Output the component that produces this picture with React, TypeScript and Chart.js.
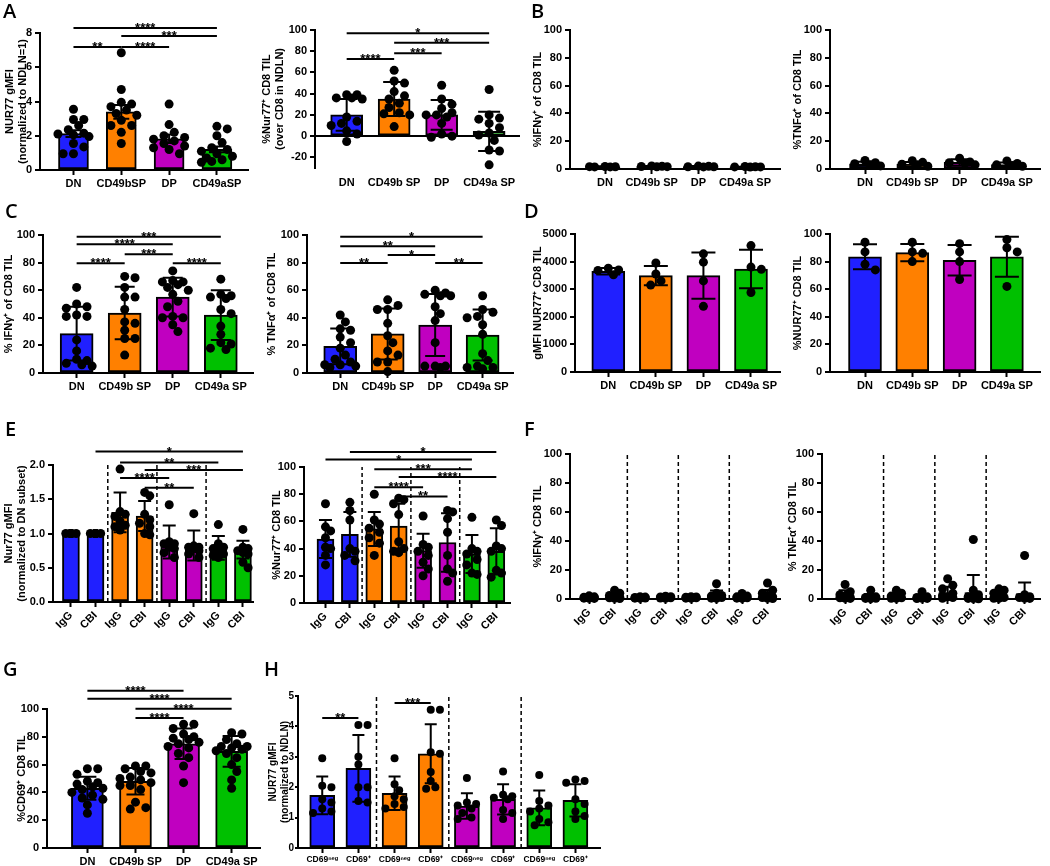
import React, { useEffect, useRef } from 'react';
import { Chart, registerables } from 'chart.js';
Chart.register(...registerables);

const FONT = 'Arial, "Liberation Sans", Helvetica, sans-serif';
const BLUE = '#2020ff';
const ORANGE = '#ff8000';
const PURPLE = '#c000c0';
const GREEN = '#00c000';
const SUBSET_COLORS = [BLUE, ORANGE, PURPLE, GREEN];
const PAIR_COLORS = [BLUE, BLUE, ORANGE, ORANGE, PURPLE, PURPLE, GREEN, GREEN];

// ---------- categories ----------
const SUBSETS = ['DN', 'CD49b SP', 'DP', 'CD49a SP'];
const SUBSETS_A = ['DN', 'CD49bSP', 'DP', 'CD49aSP'];
const TREAT = ['IgG', 'CBI', 'IgG', 'CBI', 'IgG', 'CBI', 'IgG', 'CBI'];
const CD69_CATS = ['CD69ⁿᵉᵍ', 'CD69⁺', 'CD69ⁿᵉᵍ', 'CD69⁺', 'CD69ⁿᵉᵍ', 'CD69⁺', 'CD69ⁿᵉᵍ', 'CD69⁺'];

// ---------- A ----------
const A1_MEAN = [2.12, 3.4, 1.82, 1.2];
const A1_SD = [0.2, 0.4, 0.25, 0.17];
const A1_PTS = [
  [3.55, 2.95, 2.95, 2.6, 2.35, 2.15, 2.1, 2.05, 1.95, 1.55, 1.35, 0.95, 0.95],
  [6.85, 4.7, 3.95, 3.85, 3.7, 3.5, 3.3, 3.2, 2.9, 2.6, 2.6, 2.2, 1.55],
  [3.85, 2.65, 2.2, 2.0, 1.9, 1.8, 1.7, 1.55, 1.4, 1.3, 1.2, 0.95],
  [2.55, 2.4, 2.0, 1.6, 1.3, 1.2, 1.1, 0.95, 0.8, 0.7, 0.6, 0.5, 0.45],
];
const A1_SIG: [number, number, number, string][] = [[0, 3, 8.29, '****'], [1, 3, 7.82, '***'], [0, 1, 7.18, '**'], [1, 2, 7.18, '****']];

const A2_MEAN = [20, 35, 20, 4.5];
const A2_SD = [15, 16, 14, 18.5];
const A2_PTS = [
  [39, 39, 36, 36, 35, 18, 14, 12, 10, 5, 2, -5],
  [62, 52, 50, 42, 38, 35, 31, 27, 22, 21, 20, 9],
  [48, 35, 30, 26, 22, 20, 20, 18, 12, 2, 0, -1],
  [44, 20, 17, 16, 12, 8, 3, 1, -4, -13, -14, -27],
];
const A2_SIG: [number, number, number, string][] = [[0, 3, 97, '*'], [1, 3, 88, '***'], [1, 2, 78, '***'], [0, 1, 72.6, '****']];

// ---------- B ----------
const B1_MEAN = [1.6, 1.8, 1.7, 1.5];
const B1_SD = [0.3, 0.3, 0.4, 0.2];
const B1_PTS = [
  [1.8, 1.6, 1.5, 1.5, 1.7],
  [2.2, 2.0, 1.8, 1.6, 1.7],
  [2.1, 1.9, 1.6, 1.5, 1.6],
  [1.8, 1.6, 1.5, 1.4, 1.5],
];
const B2_MEAN = [3.8, 3.5, 4.8, 3.2];
const B2_SD = [1.5, 1.5, 2.2, 1.5];
const B2_PTS = [
  [6.2, 4.5, 3.8, 3.0, 2.2],
  [6.0, 4.8, 3.5, 3.0, 2.0],
  [7.8, 5.0, 4.5, 4.0, 3.0],
  [5.8, 4.0, 3.0, 2.5, 2.0],
];

// ---------- C ----------
const C1_MEAN = [28.5, 43.5, 55, 42];
const C1_SD = [19.5, 19, 14, 18];
const C1_PTS = [
  [62, 50, 48, 47, 42, 41, 41, 24, 16, 10, 9, 7, 6, 5],
  [70, 69, 62, 55, 55, 46, 37, 36, 31, 25, 25, 13],
  [74, 67, 66, 66, 64, 62, 60, 57, 52, 48, 41, 40, 40, 35, 30],
  [68, 57, 56, 55, 54, 46, 43, 34, 28, 22, 21, 18, 17],
];
const C1_SIG: [number, number, number, string][] = [[0, 3, 98.8, '***'], [0, 2, 93.3, '****'], [1, 2, 86, '***'], [0, 1, 79.5, '****'], [2, 3, 79.5, '****']];

const C2_MEAN = [19.3, 28.3, 34.8, 27.5];
const C2_SD = [13, 18.5, 22.5, 18.5];
const C2_PTS = [
  [42, 37, 32, 31, 26, 22, 18, 13, 10, 8, 6, 6, 5, 4],
  [53, 49, 46, 46, 36, 27, 22, 16, 13, 8, 8, 1],
  [60, 58, 57, 56, 56, 48, 43, 38, 22, 5, 5, 5, 4],
  [56, 46, 44, 41, 40, 35, 28, 14, 9, 5, 4, 4, 3],
];
const C2_SIG: [number, number, number, string][] = [[0, 3, 98.8, '*'], [0, 2, 91.8, '**'], [1, 2, 85.5, '*'], [0, 1, 79.8, '**'], [2, 3, 79.8, '**']];

// ---------- D ----------
const D1_MEAN = [3650, 3490, 3490, 3730];
const D1_SD = [120, 350, 840, 700];
const D1_PTS = [
  [3760, 3700, 3680, 3520],
  [3950, 3550, 3300, 3150],
  [4280, 3980, 3300, 2380],
  [4580, 3800, 3720, 2880],
];
const D2_MEAN = [83.5, 86.5, 81, 83.5];
const D2_SD = [9, 6.2, 11, 14.5];
const D2_PTS = [
  [94, 87, 78, 74],
  [94, 87, 86, 80],
  [93, 87, 80, 67],
  [96, 90, 87, 62],
];

// ---------- E ----------
const E1_MEAN = [1.0, 1.0, 1.31, 1.255, 0.875, 0.825, 0.79, 0.765];
const E1_SD = [0, 0, 0.29, 0.22, 0.24, 0.22, 0.175, 0.13];
const E1_PTS = [
  [1, 1, 1, 1, 1, 1, 1, 1],
  [1, 1, 1, 1, 1, 1, 1, 1],
  [1.94, 1.32, 1.28, 1.25, 1.18, 1.12, 1.1, 1.05],
  [1.6, 1.55, 1.28, 1.2, 1.15, 1.1, 1.0, 0.98],
  [1.42, 0.88, 0.85, 0.85, 0.8, 0.78, 0.72, 0.65],
  [1.29, 0.82, 0.8, 0.8, 0.78, 0.75, 0.7, 0.65],
  [1.13, 0.85, 0.8, 0.78, 0.75, 0.7, 0.68, 0.65],
  [1.06, 0.8, 0.78, 0.75, 0.72, 0.7, 0.58, 0.5],
];
const E1_SIG: [number, number, number, string][] = [[1, 7, 2.196, '*'], [2, 6, 2.035, '**'], [3, 7, 1.928, '***'], [2, 4, 1.811, '****'], [3, 5, 1.669, '**']];

const E2_MEAN = [47, 50.5, 54.5, 56.5, 38.5, 44.5, 36, 38];
const E2_SD = [14, 16.5, 12.5, 16.5, 12.5, 21.5, 14, 17];
const E2_PTS = [
  [73, 56, 53, 48, 41, 40, 35, 28],
  [74, 68, 61, 40, 38, 35, 31],
  [80, 61, 58, 55, 52, 48, 44, 35],
  [77, 76, 73, 65, 45, 40, 38, 37],
  [64, 43, 41, 38, 35, 30, 25, 20],
  [68, 67, 62, 52, 35, 25, 22, 16],
  [63, 40, 38, 36, 32, 28, 22, 21],
  [61, 57, 42, 40, 38, 24, 22, 19],
];
const E2_SIG: [number, number, number, string][] = [[1, 7, 111, '*'], [0, 6, 105.5, '*'], [2, 6, 98.3, '***'], [3, 7, 92.6, '****'], [2, 4, 85.2, '****'], [3, 5, 78.4, '**']];

// ---------- F ----------
const F1_MEAN = [1.2, 2.0, 1.0, 1.2, 1.0, 2.8, 1.3, 3.0];
const F1_SD = [0.6, 1.8, 0.4, 0.6, 0.5, 3.0, 1.0, 3.2];
const F1_PTS = [
  [2.2, 1.5, 1.2, 1.0, 0.8, 0.6, 0.5, 0.4],
  [6.0, 4.0, 2.5, 2.0, 1.2, 0.8, 0.5, 0.3],
  [1.6, 1.3, 1.0, 0.9, 0.7, 0.6, 0.5],
  [1.9, 1.6, 1.4, 1.2, 0.9, 0.7, 0.5],
  [1.6, 1.4, 1.2, 1.0, 0.8, 0.6, 0.5],
  [10.5, 4.0, 2.5, 2.0, 1.5, 1.0, 0.6, 0.4],
  [3.8, 2.0, 1.5, 1.0, 0.8, 0.6, 0.4],
  [11.0, 6.0, 4.0, 2.5, 1.5, 1.0, 0.5, 0.3],
];
const F2_MEAN = [2.8, 1.5, 1.8, 1.2, 4.0, 4.5, 2.0, 3.8];
const F2_SD = [3.2, 2.0, 2.0, 1.6, 4.5, 12, 2.5, 7.5];
const F2_PTS = [
  [10.0, 5.0, 3.0, 2.0, 1.0, 0.8, 0.5, 0.4],
  [6.0, 1.5, 1.0, 0.6, 0.5, 0.4, 0.3],
  [6.0, 4.0, 2.0, 1.2, 0.8, 0.5, 0.4],
  [5.0, 1.5, 1.0, 0.5, 0.4, 0.3],
  [14.0, 9.5, 7.0, 4.0, 2.5, 1.5, 1.0, 0.5],
  [41.0, 6.0, 3.0, 1.5, 1.0, 0.5, 0.4, 0.3, 0.2],
  [7.0, 6.0, 4.0, 2.0, 1.0, 0.5, 0.4],
  [30.0, 3.0, 1.5, 1.0, 0.5, 0.4],
];

// ---------- G ----------
const G_MEAN = [43, 48, 75, 69.5];
const G_SD = [8.3, 9.5, 11, 11];
const G_PTS = [
  [57, 57, 53, 48, 47, 46, 44, 43, 42, 40, 38, 36, 35, 31, 25],
  [59, 59, 57, 55, 54, 51, 50, 49, 47, 45, 45, 42, 33, 29, 28],
  [89, 89, 86, 82, 80, 79, 78, 76, 75, 73, 72, 68, 65, 59, 47],
  [83, 82, 78, 75, 73, 73, 72, 71, 70, 68, 65, 60, 55, 49, 43],
];
const G_SIG: [number, number, number, string][] = [[0, 2, 113.2, '****'], [0, 3, 107.4, '****'], [1, 3, 100.2, '****'], [1, 2, 93.5, '****']];

// ---------- H ----------
const H_MEAN = [1.73, 2.62, 1.8, 3.1, 1.38, 1.6, 1.32, 1.57];
const H_SD = [0.62, 1.1, 0.55, 0.97, 0.42, 0.5, 0.57, 0.53];
const H_PTS = [
  [2.95, 2.05, 2.0, 1.6, 1.5, 1.3, 1.2, 1.15],
  [4.05, 4.05, 3.0, 2.75, 2.0, 2.0, 1.55, 1.5],
  [2.95, 2.1, 1.9, 1.7, 1.6, 1.45, 1.35, 1.3],
  [4.55, 4.55, 3.15, 3.1, 2.5, 2.2, 2.0, 1.95],
  [2.3, 1.5, 1.45, 1.4, 1.3, 1.15, 1.0, 0.95],
  [2.52, 1.75, 1.7, 1.65, 1.6, 1.25, 1.15, 0.95],
  [2.4, 1.55, 1.4, 1.3, 1.2, 0.95, 0.85, 0.75],
  [2.25, 2.2, 2.15, 1.6, 1.45, 1.2, 1.05, 0.95],
];
const H_SIG: [number, number, number, string][] = [[0, 1, 4.28, '**'], [2, 3, 4.77, '***']];

const SEPARATORS = [1.5, 3.5, 5.5];

type Spec = {
  cats: string[]; colors: string[]; mean: number[]; sd: number[]; pts: number[][];
  yMin: number; yMax: number; yStep: number; dec?: number;
  title: string | string[];
  axisX: number; plotRight: number; yTopPx: number; yBotPx: number;
  xMin: number; xMax: number; barW: number; capW: number; r: number; titleCx: number;
  sig?: [number, number, number, string][]; dashes?: number[]; rotate?: boolean; zeroLine?: boolean;
  fs?: number; xfs?: number; yTick?: number;
};

const SPECS: Spec[] = [
  { cats: SUBSETS_A, colors: SUBSET_COLORS, mean: A1_MEAN, sd: A1_SD, pts: A1_PTS, yMin: 0, yMax: 8, yStep: 2,
    title: ['NUR77 gMFI', '(normalized to NDLN=1)'], axisX: 40, plotRight: 248, yTopPx: 33.3, yBotPx: 170,
    xMin: -0.7, xMax: 3.65, barW: 30, capW: 16, r: 4.5, titleCx: 16.5, sig: A1_SIG },
  { cats: SUBSETS, colors: SUBSET_COLORS, mean: A2_MEAN, sd: A2_SD, pts: A2_PTS, yMin: -30, yMax: 100, yStep: 20,
    title: ['%Nur77⁺ CD8 TIL', '(over CD8 in NDLN)'], axisX: 315, plotRight: 520, yTopPx: 30, yBotPx: 167.8,
    xMin: -0.667, xMax: 3.65, barW: 32, capW: 22, r: 4.5, titleCx: 273.5, sig: A2_SIG, zeroLine: true },
  { cats: SUBSETS, colors: SUBSET_COLORS, mean: B1_MEAN, sd: B1_SD, pts: B1_PTS, yMin: 0, yMax: 100, yStep: 20,
    title: '%IFNγ⁺ of CD8 TIL', axisX: 570, plotRight: 780, yTopPx: 30, yBotPx: 169.3,
    xMin: -0.75, xMax: 3.75, barW: 30, capW: 18, r: 4.5, titleCx: 538 },
  { cats: SUBSETS, colors: SUBSET_COLORS, mean: B2_MEAN, sd: B2_SD, pts: B2_PTS, yMin: 0, yMax: 100, yStep: 20,
    title: '%TNFα⁺ of CD8 TIL', axisX: 830, plotRight: 1040, yTopPx: 30, yBotPx: 169.3,
    xMin: -0.74, xMax: 3.7, barW: 31, capW: 18, r: 4.5, titleCx: 798 },
  { cats: SUBSETS, colors: SUBSET_COLORS, mean: C1_MEAN, sd: C1_SD, pts: C1_PTS, yMin: 0, yMax: 100, yStep: 20,
    title: '% IFNγ⁺ of CD8 TIL', axisX: 43, plotRight: 253, yTopPx: 235, yBotPx: 372.7,
    xMin: -0.7, xMax: 3.67, barW: 33, capW: 20, r: 4.5, titleCx: 9, sig: C1_SIG },
  { cats: SUBSETS, colors: SUBSET_COLORS, mean: C2_MEAN, sd: C2_SD, pts: C2_PTS, yMin: 0, yMax: 100, yStep: 20,
    title: '% TNFα⁺ of CD8 TIL', axisX: 306.7, plotRight: 513, yTopPx: 235, yBotPx: 372.7,
    xMin: -0.7, xMax: 3.64, barW: 33, capW: 20, r: 4.5, titleCx: 272, sig: C2_SIG },
  { cats: SUBSETS, colors: SUBSET_COLORS, mean: D1_MEAN, sd: D1_SD, pts: D1_PTS, yMin: 0, yMax: 5000, yStep: 1000,
    title: 'gMFI NUR77⁺ CD8 TIL', axisX: 575, plotRight: 780, yTopPx: 234.3, yBotPx: 372.7,
    xMin: -0.7, xMax: 3.61, barW: 33, capW: 24, r: 4.5, titleCx: 538 },
  { cats: SUBSETS, colors: SUBSET_COLORS, mean: D2_MEAN, sd: D2_SD, pts: D2_PTS, yMin: 0, yMax: 100, yStep: 20,
    title: '%NUR77⁺ CD8 TIL', axisX: 830, plotRight: 1040, yTopPx: 234.3, yBotPx: 372.7,
    xMin: -0.74, xMax: 3.7, barW: 33, capW: 24, r: 4.5, titleCx: 798 },
  { cats: TREAT, colors: PAIR_COLORS, mean: E1_MEAN, sd: E1_SD, pts: E1_PTS, yMin: 0, yMax: 2, yStep: 0.5, dec: 1,
    title: ['Nur77 gMFI', '(normalized to DN subset)'], axisX: 52.7, plotRight: 253, yTopPx: 465, yBotPx: 601.7,
    xMin: -0.73, xMax: 7.41, barW: 17, capW: 13, r: 4.5, titleCx: 15, sig: E1_SIG, dashes: SEPARATORS, rotate: true },
  { cats: TREAT, colors: PAIR_COLORS, mean: E2_MEAN, sd: E2_SD, pts: E2_PTS, yMin: 0, yMax: 100, yStep: 20,
    title: '%Nur77⁺ CD8 TIL', axisX: 304, plotRight: 510, yTopPx: 466.7, yBotPx: 602.3,
    xMin: -0.88, xMax: 7.56, barW: 17, capW: 13, r: 4.5, titleCx: 277, sig: E2_SIG, dashes: SEPARATORS, rotate: true },
  { cats: TREAT, colors: PAIR_COLORS, mean: F1_MEAN, sd: F1_SD, pts: F1_PTS, yMin: 0, yMax: 100, yStep: 20,
    title: '%IFNγ⁺ CD8 TIL', axisX: 570, plotRight: 780, yTopPx: 454.3, yBotPx: 599.3,
    xMin: -0.75, xMax: 7.49, barW: 17, capW: 13, r: 4.5, titleCx: 538, dashes: SEPARATORS, rotate: true },
  { cats: TREAT, colors: PAIR_COLORS, mean: F2_MEAN, sd: F2_SD, pts: F2_PTS, yMin: 0, yMax: 100, yStep: 20,
    title: '% TNFα⁺ CD8 TIL', axisX: 821.7, plotRight: 1040, yTopPx: 454.3, yBotPx: 599.3,
    xMin: -0.9, xMax: 7.6, barW: 17, capW: 13, r: 4.5, titleCx: 793, dashes: SEPARATORS, rotate: true },
  { cats: SUBSETS, colors: SUBSET_COLORS, mean: G_MEAN, sd: G_SD, pts: G_PTS, yMin: 0, yMax: 100, yStep: 20,
    title: '%CD69⁺ CD8 TIL', axisX: 46.7, plotRight: 260, yTopPx: 709.3, yBotPx: 848.3,
    xMin: -0.84, xMax: 3.59, barW: 32, capW: 18, r: 4.5, titleCx: 22, sig: G_SIG },
  { cats: CD69_CATS, colors: PAIR_COLORS, mean: H_MEAN, sd: H_SD, pts: H_PTS, yMin: 0, yMax: 5, yStep: 1,
    title: ['NUR77 gMFI', '(normalized to NDLN)'], axisX: 297.7, plotRight: 600, yTopPx: 695.7, yBotPx: 847.3,
    xMin: -0.67, xMax: 7.68, barW: 25, capW: 12, r: 4, titleCx: 279, sig: H_SIG, dashes: SEPARATORS,
    fs: 10, xfs: 8.5, yTick: 3 },
];

const LETTERS: [string, number, number][] = [
  ['A', 3, 1], ['B', 531, 1], ['C', 5, 201], ['D', 524, 201],
  ['E', 5, 419], ['F', 524, 419], ['G', 3, 659], ['H', 264, 659],
];

function swarm(vals: number[], pxPerY: number, r: number, maxOff: number): number[] {
  const placed: { dx: number; y: number }[] = [];
  const step = r * 1.15;
  const minD = r * 1.75;
  const cands: number[] = [0];
  for (let k = 1; k * step <= maxOff + 0.01; k++) cands.push(k * step, -k * step);
  return vals.map((v) => {
    const y = v * pxPerY;
    let best = 0;
    let bestD = -1;
    for (const c of cands) {
      let md = Infinity;
      for (const p of placed) md = Math.min(md, Math.hypot(p.dx - c, p.y - y));
      if (md >= minD) { best = c; break; }
      if (md > bestD) { bestD = md; best = c; }
    }
    placed.push({ dx: best, y });
    return best;
  });
}

const W = 70, H = 46, PT = 60, PR = 25;

function ChartBox({ s }: { s: Spec }) {
  const ref = useRef<HTMLCanvasElement | null>(null);
  const left = s.axisX - W;
  const top = s.yTopPx - PT;
  const width = Math.round(s.plotRight + PR - left);
  const height = Math.round(PT + (s.yBotPx - s.yTopPx) + H);
  useEffect(() => {
    if (!ref.current) return;
    const fs = s.fs ?? 11;
    const font: any = { family: FONT, size: fs, weight: 'bold' };
    const xfont: any = { family: FONT, size: s.xfs ?? fs, weight: 'bold' };
    const nLines = Array.isArray(s.title) ? s.title.length : 1;
    const lh = fs * 1.2;
    const titlePad = s.titleCx - left - (nLines * lh) / 2;
    const spacing = (s.plotRight - s.axisX) / (s.xMax - s.xMin);
    const pxPerY = (s.yBotPx - s.yTopPx) / (s.yMax - s.yMin);
    const scatter: { x: number; y: number }[] = [];
    s.pts.forEach((grp, i) => {
      const offs = swarm(grp, pxPerY, s.r, s.barW / 2 + 1);
      grp.forEach((v, k) => scatter.push({ x: i + offs[k] / spacing, y: v }));
    });
    const rot = s.rotate ? 45 : 0;
    const overlay = {
      id: 'overlay',
      beforeDatasetsDraw(chart: any) {
        if (!s.dashes) return;
        const { ctx, scales } = chart;
        ctx.save();
        ctx.strokeStyle = '#000';
        ctx.lineWidth = 1.5;
        ctx.setLineDash([4, 3]);
        s.dashes.forEach((d) => {
          const x = scales.x.getPixelForValue(d);
          ctx.beginPath();
          ctx.moveTo(x, scales.y.getPixelForValue(s.yMin));
          ctx.lineTo(x, scales.y.getPixelForValue(s.yMax));
          ctx.stroke();
        });
        ctx.restore();
      },
      afterDatasetsDraw(chart: any) {
        const { ctx, scales } = chart;
        const xs = scales.x, ys = scales.y;
        ctx.save();
        ctx.strokeStyle = '#000';
        ctx.lineWidth = 2;
        s.mean.forEach((m, i) => {
          const sd = s.sd[i];
          if (!sd) return;
          const x = xs.getPixelForValue(i);
          const yT = ys.getPixelForValue(m + sd);
          const yB = ys.getPixelForValue(Math.max(s.yMin, m - sd));
          const c = s.capW / 2;
          ctx.beginPath();
          ctx.moveTo(x, yT); ctx.lineTo(x, yB);
          ctx.moveTo(x - c, yT); ctx.lineTo(x + c, yT);
          if (m - sd > s.yMin) { ctx.moveTo(x - c, yB); ctx.lineTo(x + c, yB); }
          ctx.stroke();
        });
        (s.sig || []).forEach(([a, b, v, txt]) => {
          const x1 = xs.getPixelForValue(a);
          const x2 = xs.getPixelForValue(b);
          const y = ys.getPixelForValue(v);
          ctx.beginPath();
          ctx.moveTo(x1, y); ctx.lineTo(x2, y);
          ctx.stroke();
          ctx.fillStyle = '#000';
          ctx.font = `bold 13px ${FONT}`;
          ctx.textAlign = 'center';
          ctx.textBaseline = 'alphabetic';
          ctx.fillText(txt, (x1 + x2) / 2, y + 4);
        });
        ctx.restore();
      },
    };
    const firstTick = Math.ceil(s.yMin / s.yStep - 1e-9) * s.yStep;
    const yTickLen = s.yTick ?? 5;
    const chart = new Chart(ref.current, {
      type: 'bar',
      data: {
        datasets: [
          { type: 'scatter', data: scatter, pointRadius: s.r, pointHoverRadius: s.r, pointBackgroundColor: '#000',
            pointBorderColor: '#000', pointBorderWidth: 0, clip: false, order: 0 } as any,
          { type: 'bar', data: s.mean.map((m, i) => ({ x: i, y: m })), backgroundColor: s.colors, borderColor: '#000',
            borderWidth: 2, borderSkipped: false, barThickness: s.barW, order: 1 } as any,
        ],
      },
      options: {
        responsive: false,
        animation: false,
        events: [],
        layout: { padding: { top: PT, right: PR, left: 0, bottom: 0 } },
        plugins: { legend: { display: false }, tooltip: { enabled: false } },
        scales: {
          x: {
            type: 'linear', min: s.xMin, max: s.xMax, offset: false,
            afterBuildTicks: (sc: any) => { sc.ticks = s.cats.map((_, i) => ({ value: i })); },
            afterFit: (sc: any) => { sc.height = H; },
            ticks: {
              callback: (v: any) => s.cats[Math.round(Number(v))] ?? '',
              autoSkip: false, maxRotation: rot, minRotation: rot, color: '#000', font: xfont,
              padding: s.zeroLine ? 8 : 2,
            },
            grid: { display: true, offset: false, drawOnChartArea: false, drawTicks: !s.zeroLine, tickLength: 5, tickWidth: 2, tickColor: '#000' },
            border: { display: !s.zeroLine, color: '#000', width: 2 },
          } as any,
          y: {
            type: 'linear', min: s.yMin, max: s.yMax,
            afterBuildTicks: (sc: any) => {
              const arr: { value: number }[] = [];
              for (let v = firstTick; v <= s.yMax + 1e-9; v += s.yStep) arr.push({ value: Math.round(v * 1000) / 1000 });
              sc.ticks = arr;
            },
            afterFit: (sc: any) => { sc.width = W; },
            ticks: {
              callback: (v: any) => (s.dec ? Number(v).toFixed(s.dec) : String(v)),
              color: '#000', font, padding: s.yTick ? 1 : 3,
            },
            grid: {
              display: true, drawOnChartArea: !!s.zeroLine,
              color: (c: any) => (c.tick && c.tick.value === 0 ? '#000' : 'rgba(0,0,0,0)'),
              lineWidth: 2, drawTicks: true, tickLength: yTickLen, tickWidth: 2, tickColor: '#000',
            },
            border: { display: true, color: '#000', width: 2 },
            title: { display: true, text: s.title, color: '#000', font, padding: { top: titlePad, bottom: 0 } },
          } as any,
        },
      },
      plugins: [overlay],
    });
    return () => chart.destroy();
  }, []);
  return (
    <canvas ref={ref} width={width} height={height}
      style={{ position: 'absolute', left, top, width, height }} />
  );
}

export default function App() {
  return (
    <div style={{ position: 'absolute', left: 0, top: 0, width: 1050, height: 866, overflow: 'hidden', background: '#fff' }}>
      {SPECS.map((s, i) => <ChartBox key={i} s={s} />)}
      {LETTERS.map(([t, x, y]) => (
        <div key={t} style={{ position: 'absolute', left: x, top: y, font: `600 20px "Open Sans", sans-serif`, lineHeight: '20px', color: '#000' }}>{t}</div>
      ))}
    </div>
  );
}
